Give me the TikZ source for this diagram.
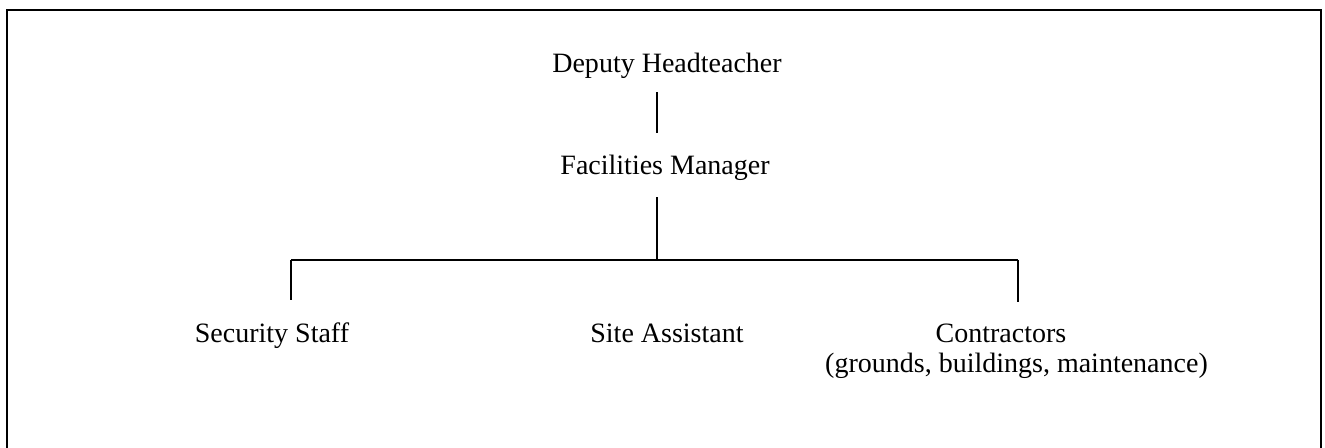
\documentclass[tikz,border=0pt]{standalone}
\usepackage{fontspec}
\setmainfont{Liberation Serif}
\usetikzlibrary{calc}
\begin{document}
\begin{tikzpicture}[x=0.5pt,y=-0.5pt,
  lbl/.style={inner sep=0pt, anchor=base, text height=9.5pt, text depth=3pt,
    font=\fontsize{14pt}{14.5pt}\selectfont},
  conn/.style={draw=black, line width=0.65pt},
  frame/.style={draw=black, line width=1pt}]
\useasboundingbox (0,0) rectangle (1325,448);
\draw[frame] (7,449) -- (7,10) -- (1321,10) -- (1321,449);

\node[lbl] (dh) at (667,73) {Deputy Headteacher};
\node[lbl] (fm) at (665,175) {Facilities Manager};
\node[lbl] (ss) at (272,342) {Security Staff};
\node[lbl] (sa) at (667,342) {Site Assistant};
\node[lbl] (ct) at (1001,343) {Contractors};
\node[lbl] (ct2) at (1016.5,372) {(grounds, buildings, maintenance)};

\coordinate (hub) at (657,260);
\coordinate (bl) at (291,260);
\coordinate (br) at (1018,260);

\draw[conn] ($(dh.south -| hub)+(0,13)$) -- ($(fm.north -| hub)+(0,-23)$);
\draw[conn] ($(fm.south -| hub)+(0,16)$) -- (hub);
\draw[conn] (bl) -- (br);
\draw[conn] (bl) -- ($(bl |- ss.north)+(0,-23)$);
\draw[conn] (br) -- ($(br |- ct.north)+(0,-22)$);
\end{tikzpicture}
\end{document}
